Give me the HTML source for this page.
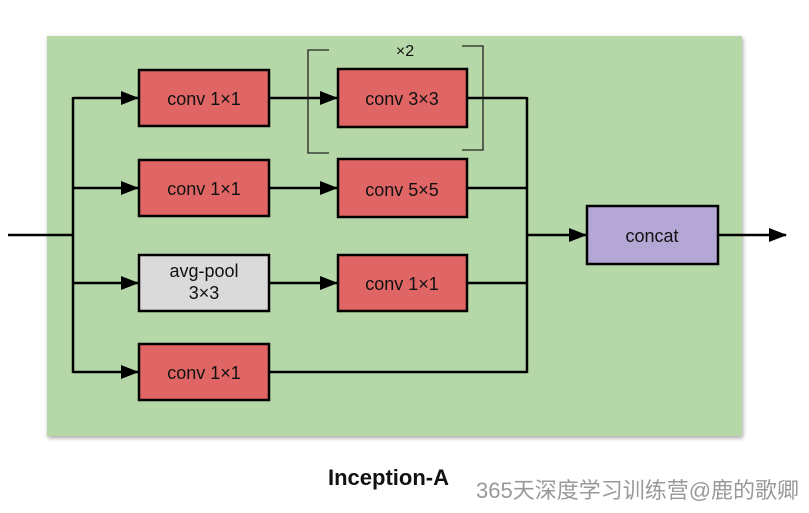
<!DOCTYPE html>
<html><head><style>
body{margin:0;width:809px;height:508px;background:#fff;overflow:hidden;font-family:"Liberation Sans",sans-serif}
</style></head><body>
<svg width="809" height="508" xmlns="http://www.w3.org/2000/svg">
<defs>
<marker id="a" markerWidth="18" markerHeight="14" refX="17" refY="7" orient="auto" markerUnits="userSpaceOnUse" viewBox="0 0 18 14"><path d="M0,0 L18,7 L0,14 z" fill="#000"/></marker>
<filter id="s" x="-5%" y="-5%" width="110%" height="110%"><feDropShadow dx="1" dy="2" stdDeviation="2" flood-color="#000" flood-opacity="0.35"/></filter>
</defs>
<rect x="47" y="36" width="695" height="400" fill="#b6d7a8" filter="url(#s)"/>
<g stroke="#000" stroke-width="2.5" fill="none">
<line x1="8" y1="235" x2="73" y2="235"/>
<line x1="73" y1="97" x2="73" y2="373"/>
<line x1="73" y1="98" x2="138" y2="98" marker-end="url(#a)"/>
<line x1="73" y1="188" x2="138" y2="188" marker-end="url(#a)"/>
<line x1="73" y1="283" x2="138" y2="283" marker-end="url(#a)"/>
<line x1="73" y1="372" x2="138" y2="372" marker-end="url(#a)"/>
<line x1="269" y1="98" x2="337" y2="98" marker-end="url(#a)"/>
<line x1="269" y1="188" x2="337" y2="188" marker-end="url(#a)"/>
<line x1="269" y1="283" x2="337" y2="283" marker-end="url(#a)"/>
<line x1="269" y1="372" x2="527" y2="372"/>
<line x1="467" y1="98" x2="527" y2="98"/>
<line x1="467" y1="188" x2="527" y2="188"/>
<line x1="467" y1="283" x2="527" y2="283"/>
<line x1="527" y1="97" x2="527" y2="373"/>
<line x1="527" y1="235" x2="586" y2="235" marker-end="url(#a)"/>
<line x1="718" y1="235" x2="786" y2="235" marker-end="url(#a)"/>
</g>
<g stroke="#222" stroke-width="1.3" fill="none">
<path d="M329,50 L308,50 L308,153 L329,153"/>
<path d="M462,46 L483,46 L483,150 L462,150"/>
</g>
<text x="405" y="56" font-size="16" text-anchor="middle" fill="#111">×2</text>
<g stroke="#000" stroke-width="2.5" fill="#e06666">
<rect x="139" y="70" width="130" height="56"/>
<rect x="139" y="160" width="130" height="56"/>
<rect x="139" y="255" width="130" height="56" fill="#dadada"/>
<rect x="139" y="344" width="130" height="56"/>
<rect x="338" y="69" width="129" height="58"/>
<rect x="338" y="159" width="129" height="58"/>
<rect x="338" y="255" width="129" height="56"/>
<rect x="587" y="206" width="131" height="58" fill="#b4a7d6"/>
</g>
<g font-size="18" text-anchor="middle" fill="#111">
<text x="204" y="105">conv 1×1</text>
<text x="204" y="195">conv 1×1</text>
<text x="204" y="277">avg-pool</text>
<text x="204" y="299">3×3</text>
<text x="204" y="379">conv 1×1</text>
<text x="402" y="105">conv 3×3</text>
<text x="402" y="196">conv 5×5</text>
<text x="402" y="290">conv 1×1</text>
<text x="652" y="242">concat</text>
</g>
<text x="328" y="485" font-size="22" font-weight="bold" fill="#111">Inception-A</text>
<text x="476" y="498" font-size="22" fill="#999" font-family="'Liberation Sans','Noto Sans CJK SC',sans-serif">365天深度学习训练营@鹿的歌卿</text>
</svg>
</body></html>
